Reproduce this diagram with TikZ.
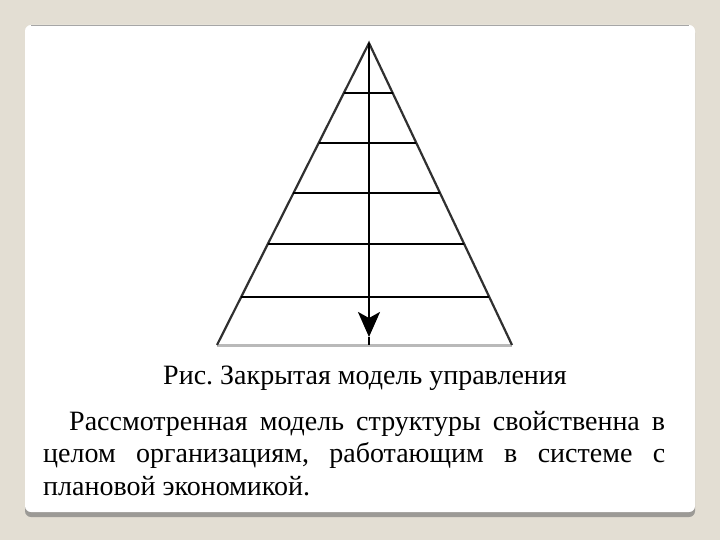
\documentclass[tikz,border=0pt]{standalone}
\usepackage{fontspec}
\setmainfont{Liberation Serif}
\usetikzlibrary{calc,arrows.meta}
\definecolor{slidebg}{HTML}{E3DED3}
\definecolor{cardshadow}{HTML}{9C9A96}
\definecolor{sideline}{HTML}{303030}
\frenchspacing
\begin{document}
\begin{tikzpicture}[
    x=1pt, y=-1pt,
    side/.style={sideline, line width=2.2pt},
    bar/.style={black, line width=2.6pt},
    caption/.style={font=\fontsize{28}{32}\selectfont, inner sep=0pt, anchor=base},
    bodytext/.style={font=\fontsize{28}{32.5}\selectfont, inner sep=0pt,
        text width=622pt, align=justify, anchor=base west},
  ]

\def\apexx{369}

  % Slide background and card
  \fill[slidebg] (0,0) rectangle (720,540);
  \fill[cardshadow, rounded corners=6pt] (25,27) rectangle (695,517);
  \fill[white, rounded corners=6pt] (25,25) rectangle (695,512);
  \draw[gray!70, line width=0.8pt] (31,25.4) -- (689,25.4);

  % Pyramid corners
  \coordinate (apex) at (\apexx,43);
  \coordinate (bl) at (217,345);
  \coordinate (br) at (512,345);
  \coordinate (bm) at (\apexx,345);
  \coordinate (head) at (\apexx,337);

  % Base and sides
  \draw[gray!55, line width=3pt] (bl) -- (br);
  \draw[side] (bl) -- (apex) -- (br);

  % Levels
  \foreach \t [count=\i] in {0.166,0.331,0.497,0.665,0.841}{
      \coordinate (l\i) at ($(apex)!\t!(bl)$);
      \coordinate (r\i) at ($(apex)!\t!(br)$);
      \draw[bar] (l\i) -- (r\i);
    }

  % Downward axis
  \draw[black, line width=2.2pt, -{Stealth[length=25pt, width=22pt, inset=6pt]}] (apex) -- (head);
  \draw[black, line width=2.2pt] (head) -- (bm);

  % Caption and text
  \node[caption] (cap) at (365,384) {Рис. Закрытая модель управления};
  \node[bodytext] (body) at (43,430) {\hspace*{26pt}Рассмотренная модель структуры свойственна в\linebreak
    целом организациям, работающим в системе с\linebreak
    плановой экономикой.};

\end{tikzpicture}
\end{document}
